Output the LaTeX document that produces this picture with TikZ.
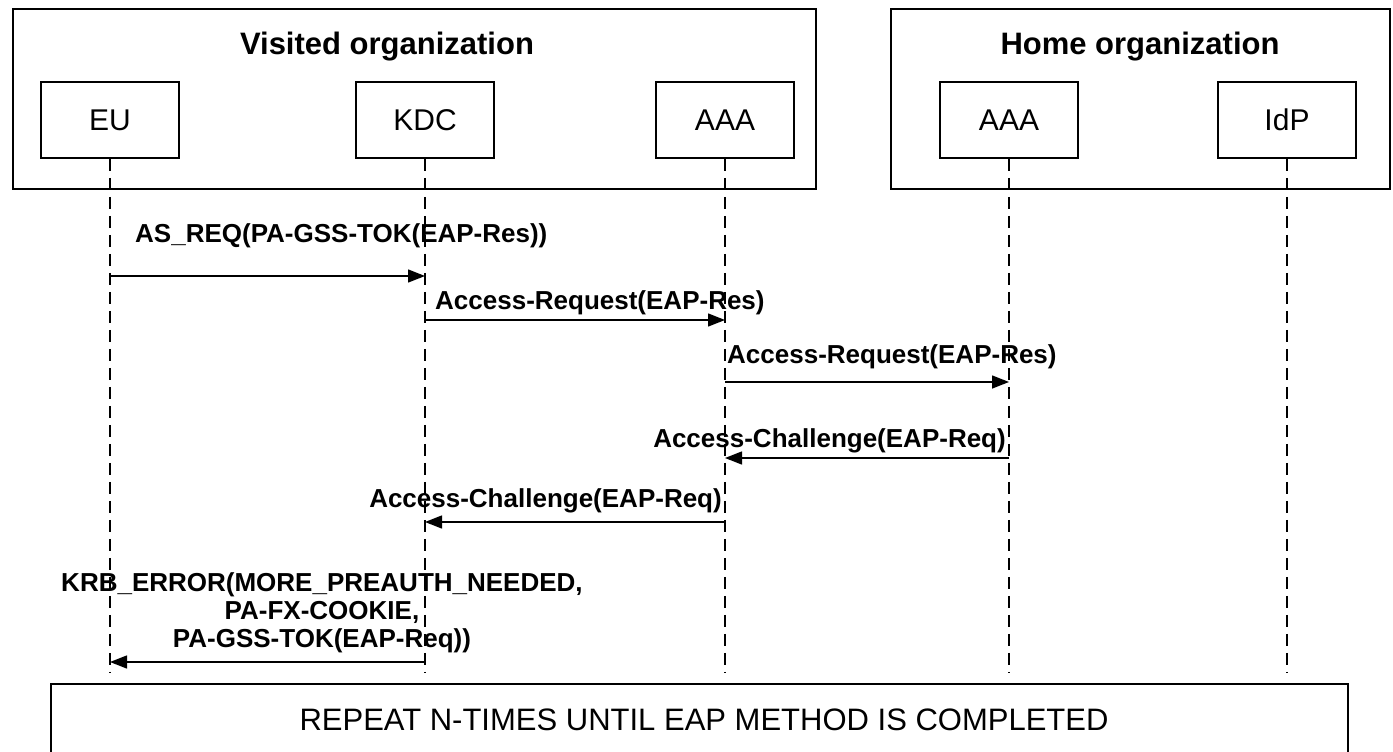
\documentclass[tikz,border=0pt]{standalone}
\usepackage{fontspec}
\setmainfont{Liberation Sans}
\usetikzlibrary{arrows.meta}

\begin{document}
\begin{tikzpicture}[x=1pt,y=-1pt,
  orgbox/.style={draw, line width=1.8pt, inner sep=0pt, anchor=north west},
  actor/.style={draw, line width=1.5pt, minimum width=138pt, minimum height=76pt,
                inner sep=0pt, font=\fontsize{30}{36}\selectfont},
  orgtitle/.style={font=\fontsize{31}{37}\selectfont\bfseries, inner sep=0pt, anchor=base},
  lifeline/.style={line width=1.3pt, dash pattern=on 12pt off 7pt},
  msg/.style={line width=1.4pt, -{Triangle[length=17pt,width=13pt]}},
  msglabel/.style={font=\fontsize{26}{30}\selectfont\bfseries, inner sep=0pt},
  note/.style={font=\fontsize{31}{37}\selectfont, inner sep=0pt, anchor=base}
]
\useasboundingbox (0,0) rectangle (1393,752);
\fill[white] (0,0) rectangle (1393,752);
\clip (0,0) rectangle (1393,752);

% organizations
\node[orgbox, minimum width=803pt, minimum height=180pt] (visited) at (12,8) {};
\node[orgbox, minimum width=499pt, minimum height=180pt] (home) at (890,8) {};
\node[orgtitle] (visitedtitle) at (387,55) {Visited organization};
\node[orgtitle] (hometitle) at (1140,55) {Home organization};

% participants
\node[actor] (eu)   at (110,120)  {EU};
\node[actor] (kdc)  at (425,120)  {KDC};
\node[actor] (vaaa) at (725,120)  {AAA};
\node[actor] (haaa) at (1009,120) {AAA};
\node[actor] (idp)  at (1287,120) {IdP};

% lifelines
\coordinate (bottom) at (0,673);
\foreach \p in {eu,kdc,vaaa,haaa,idp}
  \draw[lifeline] (\p.south) -- (\p |- bottom);

% message rows
\coordinate (r1) at (0,276);
\coordinate (r2) at (0,320);
\coordinate (r3) at (0,382);
\coordinate (r4) at (0,458);
\coordinate (r5) at (0,522);
\coordinate (r6) at (0,662);

\draw[msg] (eu |- r1) -- (kdc |- r1);
\node[msglabel, anchor=base west] (m1) at (135,242) {AS\_REQ(PA-GSS-TOK(EAP-Res))};

\draw[msg] (kdc |- r2) -- (vaaa |- r2);
\node[msglabel, anchor=base west] (m2) at (435,309) {Access-Request(EAP-Res)};

\draw[msg] (vaaa |- r3) -- (haaa |- r3);
\node[msglabel, anchor=base west] (m3) at (727,363) {Access-Request(EAP-Res)};

\draw[msg] (haaa |- r4) -- (vaaa |- r4);
\node[msglabel, anchor=base east] (m4) at (1006,447) {Access-Challenge(EAP-Req)};

\draw[msg] (vaaa |- r5) -- (kdc |- r5);
\node[msglabel, anchor=base east] (m5) at (722,507) {Access-Challenge(EAP-Req)};

\draw[msg] (kdc |- r6) -- (eu |- r6);
\node[msglabel, anchor=base] (m6a) at (322,591) {KRB\_ERROR(MORE\_PREAUTH\_NEEDED,};
\node[msglabel, anchor=base] (m6b) at (322,619) {PA-FX-COOKIE,};
\node[msglabel, anchor=base] (m6c) at (322,647) {PA-GSS-TOK(EAP-Req))};

% repeated exchange
\node[orgbox, minimum width=1297pt, minimum height=100pt] (repeat) at (50,683) {};
\node[note] (repeattext) at (704,730) {REPEAT N-TIMES UNTIL EAP METHOD IS COMPLETED};
\end{tikzpicture}
\end{document}
